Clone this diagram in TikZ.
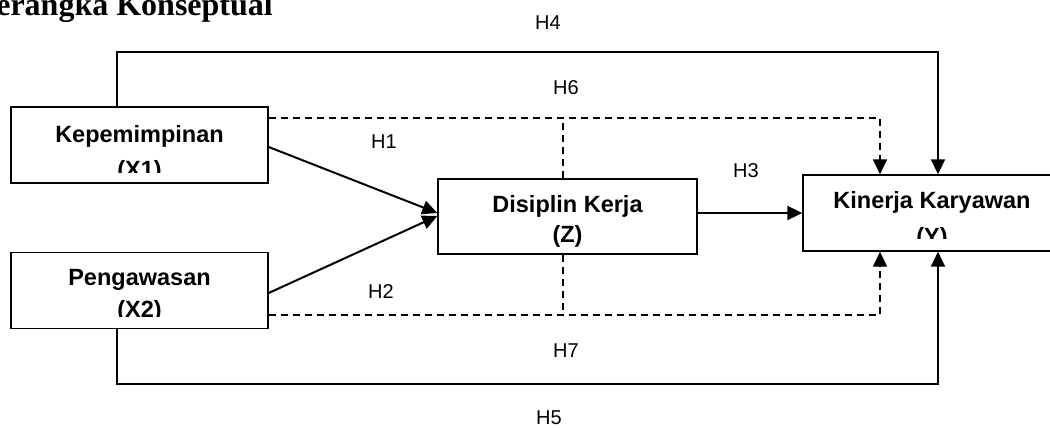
\documentclass[tikz,border=0pt]{standalone}
\usepackage{fontspec}
\setmainfont{Liberation Sans}
\newfontfamily\titlefont{Liberation Serif}
\usetikzlibrary{arrows.meta,calc}
\begin{document}
\begin{tikzpicture}[x=1pt,y=-1pt,
  box/.style={draw, line width=1.4pt, minimum width=257pt, minimum height=76pt, inner sep=0pt},
  lbl/.style={font=\fontsize{23.5}{28}\selectfont\bfseries, anchor=base, inner sep=0pt},
  hyp/.style={font=\fontsize{20}{24}\selectfont, anchor=base west, inner sep=0pt},
  tip/.style={-{Triangle[length=15pt,width=14pt]}},
  solidline/.style={line width=2pt},
  conn/.style={solidline, tip},
  dashline/.style={line width=2pt, dash pattern=on 7pt off 5pt},
  darrow/.style={dashline, tip},
]
\clip (0,0) rectangle (1050,428);

% heading
\node[font=\titlefont\fontsize{32}{36}\selectfont\bfseries, anchor=base east, inner sep=0pt]
  (title) at (273,16) {Kerangka Konseptual};

% variable boxes
\node[box] (x1) at (139.5,145) {};
\node[box] (x2) at (139.5,290.5) {};
\node[box, minimum width=259pt, minimum height=75pt] (z) at (567.5,216.5) {};
\node[box, minimum width=258pt] (y) at (932,213) {};

% box labels
\node[lbl] (x1a) at (139.5,142) {Kepemimpinan};
\begin{scope}
  \clip (11,107) rectangle (268,172);
  \node[lbl] (x1b) at (139.5,177) {(X1)};
\end{scope}
\node[lbl] (x2a) at (139.5,285) {Pengawasan};
\begin{scope}
  \clip (11,253) rectangle (268,316);
  \node[lbl] (x2b) at (139.5,317) {(X2)};
\end{scope}
\node[lbl] (za) at (567.5,212) {Disiplin Kerja};
\node[lbl] (zb) at (567.5,242) {(Z)};
\node[lbl] (ya) at (932,208) {Kinerja Karyawan};
\begin{scope}
  \clip (803,175) rectangle (1061,238);
  \node[lbl] (yb) at (932,244) {(Y)};
\end{scope}

% route corners
\coordinate (h4l) at (117,52);
\coordinate (h4r) at (938,52);
\coordinate (h5l) at (117,384);
\coordinate (h5r) at (938,384);
\coordinate (h6r) at (880,118);
\coordinate (h6z) at (563,118);
\coordinate (h7r) at (880,315);
\coordinate (h7z) at (563,315);

% direct effects
\draw[conn] ($(x1.east)+(0,2)$) -- ($(z.west)+(0,-3.5)$);
\draw[conn] ($(x2.east)+(0,2.5)$) -- ($(z.west)+(0,-0.5)$);
\draw[conn] (y.west -| z.east) -- (y.west);
\draw[conn] (x1.north -| h4l) -- (h4l) -- (h4r) -- (h4r |- y.north);
\draw[conn] (x2.south -| h5l) -- (h5l) -- (h5r) -- (h5r |- y.south);

% indirect effects through Z
\draw[darrow] (x1.east |- h6r) -- (h6r) -- (h6r |- y.north);
\draw[dashline] (z.north -| h6z) -- (h6z);
\draw[darrow] (x2.east |- h7r) -- (h7r) -- (h7r |- y.south);
\draw[dashline] (z.south -| h7z) -- (h7z);

% hypothesis labels
\node[hyp] (H4) at (535,30) {H4};
\node[hyp] (H6) at (553,95) {H6};
\node[hyp] (H1) at (371,148) {H1};
\node[hyp] (H3) at (733,177) {H3};
\node[hyp] (H2) at (368,298) {H2};
\node[hyp] (H7) at (553,357) {H7};
\node[hyp] (H5) at (536,424) {H5};
\end{tikzpicture}
\end{document}
